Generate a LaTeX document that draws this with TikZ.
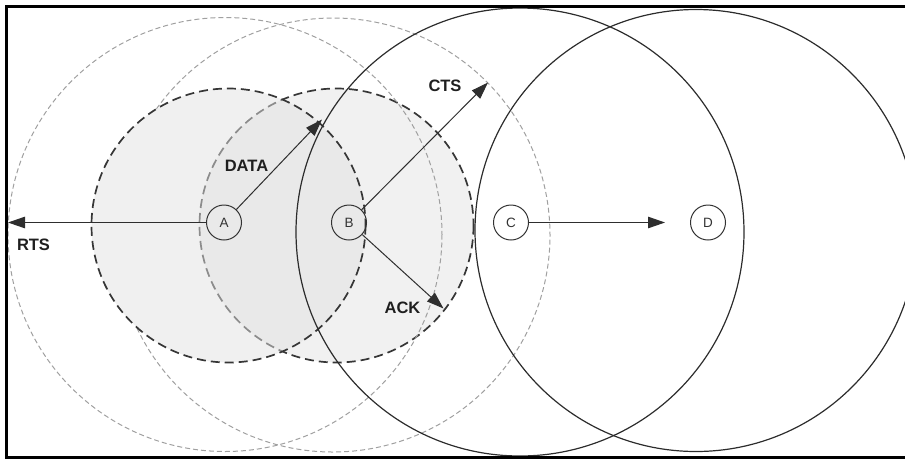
\documentclass[tikz,border=0pt]{standalone}
\usepackage{fontspec}
\setmainfont{Liberation Sans}
\usetikzlibrary{arrows.meta}
\definecolor{lightdash}{HTML}{A0A0A0}
\definecolor{darkdash}{HTML}{363636}
\definecolor{solidc}{HTML}{2C2C2C}
\definecolor{fillB}{HTML}{F1F1F1}
\definecolor{fillA}{HTML}{E2E2E2}
\begin{document}
\begin{tikzpicture}[x=1pt,y=-1pt,
  farrange/.style={draw=lightdash, line width=1pt, dash pattern=on 5pt off 3pt},
  nearrange/.style={draw=darkdash, line width=1.7pt, dash pattern=on 9pt off 5pt},
  solidrange/.style={draw=solidc, line width=1.2pt},
  station/.style={circle, draw=black!80, line width=1pt, minimum size=35pt, inner sep=0pt,
    font=\fontsize{13.5}{13.5}\selectfont, text=black!80},
  msg/.style={draw=black!82, line width=1pt, -{Triangle[length=17pt,width=11.5pt]}},
  msglabel/.style={font=\fontsize{16.5}{16.5}\selectfont\bfseries, text=black!88, inner sep=0pt},
  frameline/.style={draw=black, line width=2.5pt}
]
\useasboundingbox (0,0) rectangle (905,459);
\clip (0,0) rectangle (905,459);

% near (interference) ranges of A and B
\draw[nearrange, fill=fillB] (336.5,225.5) circle[radius=137];
% far range of B, only the part outside A's near range is seen
\draw[farrange] (333,235) ++(215.5:217) arc[start angle=215.5, end angle=514.9, radius=217];
\fill[fillA, fill opacity=0.5] (228.5,225.5) circle[radius=137];
\draw[nearrange] (228.5,225.5) circle[radius=137];
% far range of A
\draw[farrange] (225,234.5) circle[radius=217];
% ranges of C and D
\draw[solidrange] (520,232) circle[radius=224];
\draw[solidrange] (696,230.5) circle[radius=221];

% stations
\node[station] (A) at (224,222.5) {A};
\node[station] (B) at (349,222.5) {B};
\node[station] (C) at (511,222.5) {C};
\node[station] (D) at (708,222.5) {D};

% message end points
\coordinate (rtsEnd) at (8,222.5);
\coordinate (dataEnd) at (322,119.5);
\coordinate (ctsEnd) at (488,82.5);
\coordinate (ackEnd) at (443.5,308.5);
\coordinate (cdEnd) at (665,222.5);

\draw[msg] (A) -- (rtsEnd);
\draw[msg] (A) -- (dataEnd);
\draw[msg] (B) -- (ctsEnd);
\draw[msg] (B) -- (ackEnd);
\draw[msg] (C) -- (cdEnd);

% labels
\node[msglabel] (rtsL) at (33.5,244.5) {RTS};
\node[msglabel] (dataL) at (246.5,165.5) {DATA};
\node[msglabel] (ctsL) at (445,86) {CTS};
\node[msglabel] (ackL) at (402.5,308) {ACK};

% frame
\draw[frameline] (950,6.5) -- (6.5,6.5) -- (6.5,457.5) -- (950,457.5);
\end{tikzpicture}
\end{document}
